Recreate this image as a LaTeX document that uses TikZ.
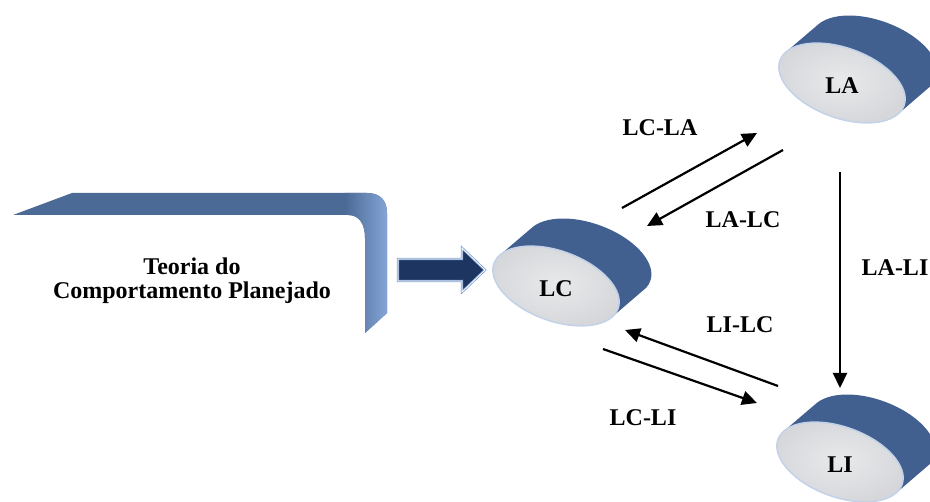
\documentclass[tikz,border=0pt]{standalone}
\usepackage{fontspec}
\setmainfont{Liberation Serif}
\usepackage{tikz}
\usetikzlibrary{arrows.meta}
\usetikzlibrary{calc}
\usepackage{xcolor}

\definecolor{bandblue}{HTML}{4B6A96}
\definecolor{bandlight}{HTML}{86A6D8}
\definecolor{bodydark}{HTML}{41608F}
\definecolor{bodylight}{HTML}{7093C8}
\definecolor{facegrey}{HTML}{D6D7DA}
\definecolor{facelight}{HTML}{E8E9EB}
\definecolor{rimblue}{HTML}{C3D2E8}
\definecolor{navy}{HTML}{1D3561}
\definecolor{outlineblue}{HTML}{7F9FD0}

\tikzset{
  lbl/.style={font=\fontsize{24}{24}\selectfont\bfseries, inner sep=0pt},
  link/.style={line width=2.2pt, -{Triangle[length=15pt,width=14pt]}}
}

% drum: name, x, y, text
\newcommand{\drum}[4]{%
  \begin{scope}[shift={(#2,#3)}]
    % blue body
    \begin{scope}
      \clip[rotate=-20] \foreach \s in {0,0.05,...,1} {(\s*22,\s*38.9) ellipse [x radius=66pt, y radius=35pt]};
      \shade[left color=bodydark, middle color=bodylight, right color=bodydark] (-70,-45) rectangle (100,75);
    \end{scope}
    % grey face
    \shade[rotate=-20, inner color=facelight, outer color=facegrey] (0,0) ellipse [x radius=66pt, y radius=35pt];
    \draw[rotate=-20, rimblue, line width=1.5pt] (0,0) ellipse [x radius=66pt, y radius=35pt];
    \node[lbl] (#1) at (0,-3) {#4};
  \end{scope}}

\begin{document}
\begin{tikzpicture}[x=1pt, y=1pt]
  \useasboundingbox (0,0) rectangle (930,-502);

  % Define the bent band round the theory
  \begin{scope}
    \clip (13,-215) -- (72,-193) -- (367,-193) .. controls (380,-193) and (387,-200) .. (387,-213)
      -- (387,-313) -- (365,-333) -- (365,-238) .. controls (365,-225) and (360,-215) .. (348,-215) -- cycle;
    \fill[bandblue] (0,-180) rectangle (400,-340);
    \shade[left color=bandblue, right color=bandlight] (345,-180) rectangle (388,-340);
  \end{scope}
  \node[lbl, align=center] (tpb) at (192,-281) {Teoria do\\Comportamento Planejado};

  % Block arrow into LC
  \draw[draw=outlineblue, double=white, double distance=0.8pt, line width=0.8pt, fill=navy]
    (398,-259) -- (462,-259) -- (462,-248) -- (485,-270) -- (462,-292) -- (462,-281) -- (398,-281) -- cycle;

  % The three drums
  \drum{LA}{842}{-83}{LA}
  \drum{LC}{556}{-286}{LC}
  \drum{LI}{840}{-462}{LI}

  % End points of the links
  \coordinate (lcla-a) at (622,-208);
  \coordinate (lcla-b) at (757,-133);
  \coordinate (lalc-a) at (783,-150);
  \coordinate (lalc-b) at (647,-226);
  \coordinate (lali-a) at (840,-172);
  \coordinate (lali-b) at (840,-388);
  \coordinate (lilc-a) at (778,-386);
  \coordinate (lilc-b) at (625,-330);
  \coordinate (lcli-a) at (603,-349);
  \coordinate (lcli-b) at (757,-403);

  % Draw the links
  \draw[link] (lcla-a) -- (lcla-b);
  \draw[link] (lalc-a) -- (lalc-b);
  \draw[link] (lali-a) -- (lali-b);
  \draw[link] (lilc-a) -- (lilc-b);
  \draw[link] (lcli-a) -- (lcli-b);

  % Label the links
  \node[lbl] (lcla) at (660,-128) {LC-LA};
  \node[lbl] (lalc) at (743,-220) {LA-LC};
  \node[lbl] (lali) at (895,-268) {LA-LI};
  \node[lbl] (lilc) at (740,-325) {LI-LC};
  \node[lbl] (lcli) at (643,-418) {LC-LI};
\end{tikzpicture}
\end{document}
